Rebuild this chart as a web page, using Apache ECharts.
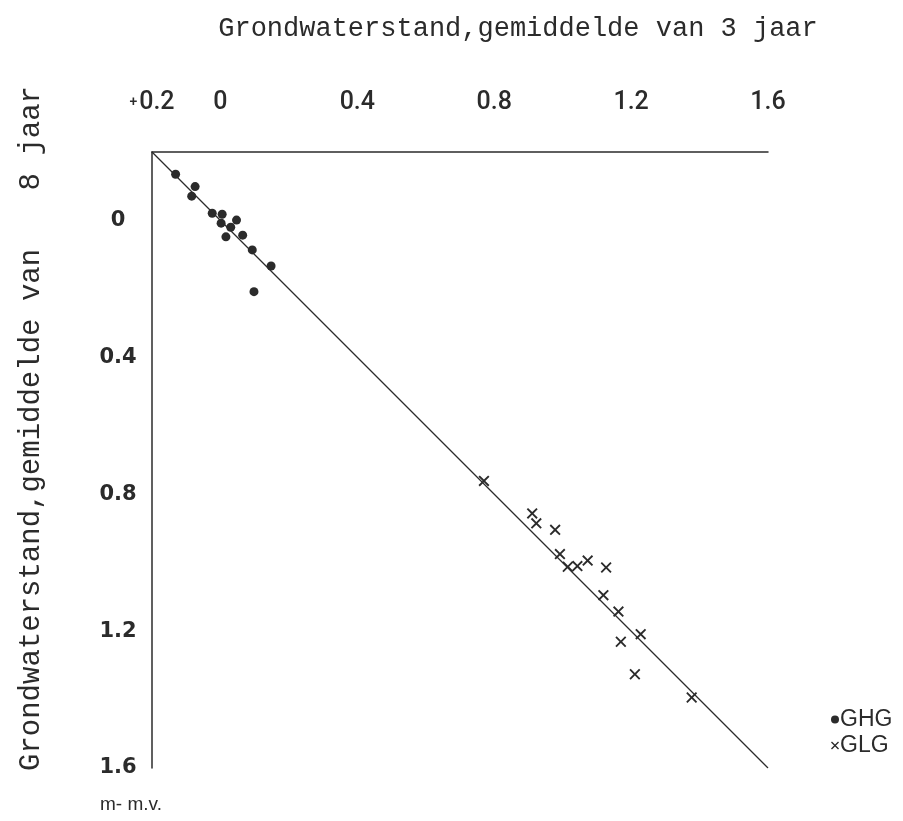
<!DOCTYPE html>
<html>
<head>
<meta charset="utf-8">
<script src="https://cdn.jsdelivr.net/npm/echarts@6/dist/echarts.min.js"></script>
<style>html,body{margin:0;padding:0;background:#fff}#c{width:903px;height:821px}</style>
</head>
<body>
<div id="c"></div>
<script>
// GHG: [3-year mean, 8-year mean] (m below surface)
var ghgX = [-0.131, -0.074, -0.084, -0.024, 0.005, 0.002, 0.047, 0.030, 0.016, 0.065, 0.093, 0.148, 0.098];
var ghgY = [-0.135, -0.099, -0.071, -0.021, -0.018, 0.008, -0.001, 0.020, 0.048, 0.043, 0.086, 0.133, 0.208];
// GLG
var glgX = [0.770, 0.911, 0.923, 0.978, 0.992, 1.015, 1.043, 1.073, 1.127, 1.119, 1.163, 1.228, 1.170, 1.211, 1.377];
var glgY = [0.761, 0.856, 0.885, 0.904, 0.975, 1.012, 1.010, 0.994, 1.014, 1.095, 1.143, 1.209, 1.231, 1.326, 1.394];
var refLine = [-0.2, 1.6];
var xTickLabels = {'-0.2': '+0.2', '0': '0', '0.4': '0.4', '0.8': '0.8', '1.2': '1.2', '1.6': '1.6'};
var yTickLabels = {'0': '0', '0.4': '0.4', '0.8': '0.8', '1.2': '1.2', '1.6': '1.6'};
var xTitle = 'Grondwaterstand,gemiddelde van 3 jaar';
var yTitleA = 'Grondwaterstand,gemiddelde van';
var yTitleB = '8 jaar';
var unitLabel = 'm- m.v.';

function zip(a, b) { return a.map(function (v, i) { return [v, b[i]]; }); }
function key(v) { return String(Math.round(v * 10) / 10); }

var ink = '#2b2b2b';
var crossPath = 'path://M0,1.2L1.2,0L5,3.8L8.8,0L10,1.2L6.2,5L10,8.8L8.8,10L5,6.2L1.2,10L0,8.8L3.8,5Z';

var chart = echarts.init(document.getElementById('c'));
chart.setOption({
  backgroundColor: '#ffffff',
  animation: false,
  grid: { left: 152, top: 152, width: 616, height: 616 },
  xAxis: {
    type: 'value', position: 'top', min: -0.2, max: 1.6, interval: 0.2,
    axisLine: { show: true, onZero: false, lineStyle: { color: ink, width: 1.5 } },
    axisTick: { show: false }, splitLine: { show: false },
    axisLabel: {
      margin: 37, color: ink, fontFamily: 'Roboto', fontWeight: 500, fontSize: 25,
      formatter: function (v) {
        var t = xTickLabels[key(v)];
        if (t === undefined) return '';
        if (t.charAt(0) === '+') return '{p|+}' + t.slice(1);
        return t;
      },
      rich: { p: { fontSize: 14, color: ink, fontFamily: 'Roboto', padding: [0, 2, 0, 0] } }
    }
  },
  yAxis: {
    type: 'value', inverse: true, min: -0.2, max: 1.6, interval: 0.2,
    axisLine: { show: true, onZero: false, lineStyle: { color: ink, width: 1.5 } },
    axisTick: { show: false }, splitLine: { show: false },
    axisLabel: {
      margin: 34, align: 'center', color: ink, fontFamily: 'DejaVu Sans', fontWeight: 'bold', fontSize: 21,
      formatter: function (v) { var t = yTickLabels[key(v)]; return t === undefined ? '' : t; }
    }
  },
  legend: {
    orient: 'vertical', left: 826, top: 703, itemWidth: 8, itemHeight: 8, itemGap: 3,
    textStyle: { color: ink, fontFamily: 'Liberation Sans', fontSize: 23, padding: [0, 0, 0, -4] },
    data: [
      { name: 'GHG', icon: 'circle', itemStyle: { color: ink } },
      { name: 'GLG', icon: crossPath, itemStyle: { color: ink } }
    ]
  },
  series: [
    {
      name: 'ref', type: 'line', data: [[refLine[0], refLine[0]], [refLine[1], refLine[1]]],
      symbol: 'none', lineStyle: { color: ink, width: 1.3 }, silent: true
    },
    {
      name: 'GHG', type: 'scatter', data: zip(ghgX, ghgY), symbol: 'circle', symbolSize: 9,
      itemStyle: { color: ink, opacity: 1 }
    },
    {
      name: 'GLG', type: 'scatter', data: zip(glgX, glgY), symbol: crossPath, symbolSize: 11,
      itemStyle: { color: ink, opacity: 1 }
    }
  ],
  graphic: [
    { type: 'text', x: 518, y: 29, style: { text: xTitle, fill: ink, font: '27px "Liberation Mono"', align: 'center', verticalAlign: 'middle' } },
    { type: 'text', x: 31, y: 771, rotation: Math.PI / 2, style: { text: yTitleA, fill: ink, font: '29px "Liberation Mono"', align: 'left', verticalAlign: 'middle' } },
    { type: 'text', x: 31, y: 86, rotation: Math.PI / 2, style: { text: yTitleB, fill: ink, font: '29px "Liberation Mono"', align: 'right', verticalAlign: 'middle' } },
    { type: 'text', x: 100, y: 805, style: { text: unitLabel, fill: ink, font: '19px "Liberation Sans"', align: 'left', verticalAlign: 'middle' } }
  ]
});
</script>
</body>
</html>
